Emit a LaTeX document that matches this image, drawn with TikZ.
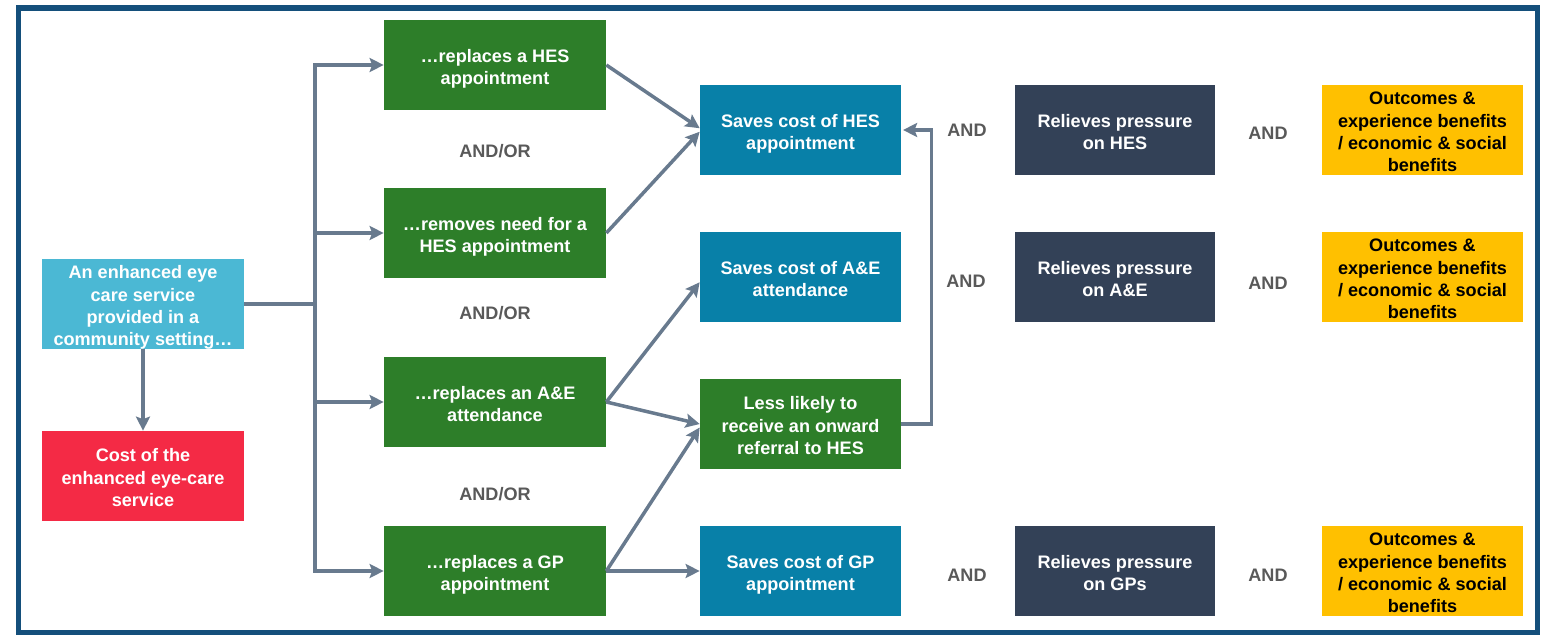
\documentclass[tikz,border=0pt]{standalone}
\usepackage{fontspec}
\setmainfont{Liberation Sans}
\usetikzlibrary{arrows.meta}
\definecolor{frameblue}{HTML}{144F7B}
\definecolor{servcyan}{HTML}{4BB8D4}
\definecolor{costred}{HTML}{F42A45}
\definecolor{stepgreen}{HTML}{2D7E29}
\definecolor{saveblue}{HTML}{0880A8}
\definecolor{slate}{HTML}{334157}
\definecolor{gold}{HTML}{FFC000}
\definecolor{linkgray}{HTML}{687A8E}
\definecolor{andgray}{HTML}{595959}
\newcommand{\topstrut}{\rule{0pt}{12.3pt}}
\newcommand{\botstrut}{\rule[-3pt]{0pt}{3pt}}

\begin{document}
\begin{tikzpicture}[x=0.02cm,y=-0.02cm,
        box/.style={minimum height=1.8cm,inner sep=-3pt,align=center,text=white,
            font=\fontsize{10.3}{12.7}\selectfont\bfseries},
        andlabel/.style={text=andgray,font=\fontsize{10.3}{13}\selectfont\bfseries},
        link/.style={draw=linkgray,line width=2pt,-{Stealth[length=8pt,width=8pt,inset=1.5pt]}},
        plain/.style={draw=linkgray,line width=2pt}]
                \useasboundingbox (0,0) rectangle (1546,635);
                \draw[frameblue,line width=2.9pt] (18.5,8) rectangle (1537.5,633);
                \node[anchor=base east,font=\fontsize{16}{16}\selectfont\bfseries] (cut) at (7,330) {e};

                \node[box,fill=servcyan,minimum width=4.04cm] (service) at (143,304) {\topstrut An enhanced eye\\care service\\provided in a\\community setting…\botstrut};
                \node[box,fill=costred,minimum width=4.04cm] (cost) at (143,476) {\topstrut Cost of the\\enhanced eye-care\\service\botstrut};

                \node[box,fill=stepgreen,minimum width=4.44cm] (replHES) at (495,65) {\topstrut …replaces a HES\\appointment\botstrut};
                \node[box,fill=stepgreen,minimum width=4.44cm] (remHES) at (495,233) {\topstrut …removes need for a\\HES appointment\botstrut};
                \node[box,fill=stepgreen,minimum width=4.44cm] (replAE) at (495,402) {\topstrut …replaces an A\&E\\attendance\botstrut};
                \node[box,fill=stepgreen,minimum width=4.44cm] (replGP) at (495,571) {\topstrut …replaces a GP\\appointment\botstrut};

                \node[andlabel] (or1) at (495,151) {AND/OR};
                \node[andlabel] (or2) at (495,313) {AND/OR};
                \node[andlabel] (or3) at (495,494) {AND/OR};

                \node[box,fill=saveblue,minimum width=4.02cm] (saveHES) at (800.5,130) {\topstrut Saves cost of HES\\appointment\botstrut};
                \node[box,fill=saveblue,minimum width=4.02cm] (saveAE) at (800.5,277) {\topstrut Saves cost of A\&E\\attendance\botstrut};
                \node[box,fill=stepgreen,minimum width=4.02cm] (lessRef) at (800.5,424) {\topstrut Less likely to\\receive an onward\\referral to HES\botstrut};
                \node[box,fill=saveblue,minimum width=4.02cm] (saveGP) at (800.5,571) {\topstrut Saves cost of GP\\appointment\botstrut};

                \node[box,fill=slate,minimum width=4cm] (relHES) at (1115,130) {\topstrut Relieves pressure\\on HES\botstrut};
                \node[box,fill=slate,minimum width=4cm] (relAE) at (1115,277) {\topstrut Relieves pressure\\on A\&E\botstrut};
                \node[box,fill=slate,minimum width=4cm] (relGP) at (1115,571) {\topstrut Relieves pressure\\on GPs\botstrut};

                \node[box,fill=gold,text=black,minimum width=4.02cm] (outHES) at (1422.5,130) {\topstrut Outcomes \&\\experience benefits\\/ economic \& social\\benefits\botstrut};
                \node[box,fill=gold,text=black,minimum width=4.02cm] (outAE) at (1422.5,277) {\topstrut Outcomes \&\\experience benefits\\/ economic \& social\\benefits\botstrut};
                \node[box,fill=gold,text=black,minimum width=4.02cm] (outGP) at (1422.5,571) {\topstrut Outcomes \&\\experience benefits\\/ economic \& social\\benefits\botstrut};

                \node[andlabel] (and1) at (967,130) {AND};
                \node[andlabel] (and2) at (1268,133) {AND};
                \node[andlabel] (and3) at (966,281) {AND};
                \node[andlabel] (and4) at (1268,283) {AND};
                \node[andlabel] (and5) at (967,575) {AND};
                \node[andlabel] (and6) at (1268,575) {AND};

                \coordinate (trunk) at (315,304);
                \draw[plain] (service.east) -- (trunk);
                \draw[link] (trunk) |- (replHES.west);
                \draw[link] (trunk) |- (remHES.west);
                \draw[link] (trunk) |- (replAE.west);
                \draw[link] (trunk) |- (replGP.west);
                \draw[link] (service) -- (cost);

                \draw[link] (replHES.east) -- ([yshift=1pt]saveHES.west);
                \draw[link] (remHES.east) -- ([yshift=-1pt]saveHES.west);
                \draw[link] (replAE.east) -- ([yshift=-3pt]saveAE.west);
                \draw[link] (replAE.east) -- (lessRef.west);
                \draw[link] (replGP.east) -- ([yshift=-2pt]lessRef.west);
                \draw[link] (replGP.east) -- (saveGP.west);
                \draw[link] (lessRef.east) -- ++(0.6cm,0) |- ([xshift=1pt]saveHES.east);
            \end{tikzpicture}
\end{document}
